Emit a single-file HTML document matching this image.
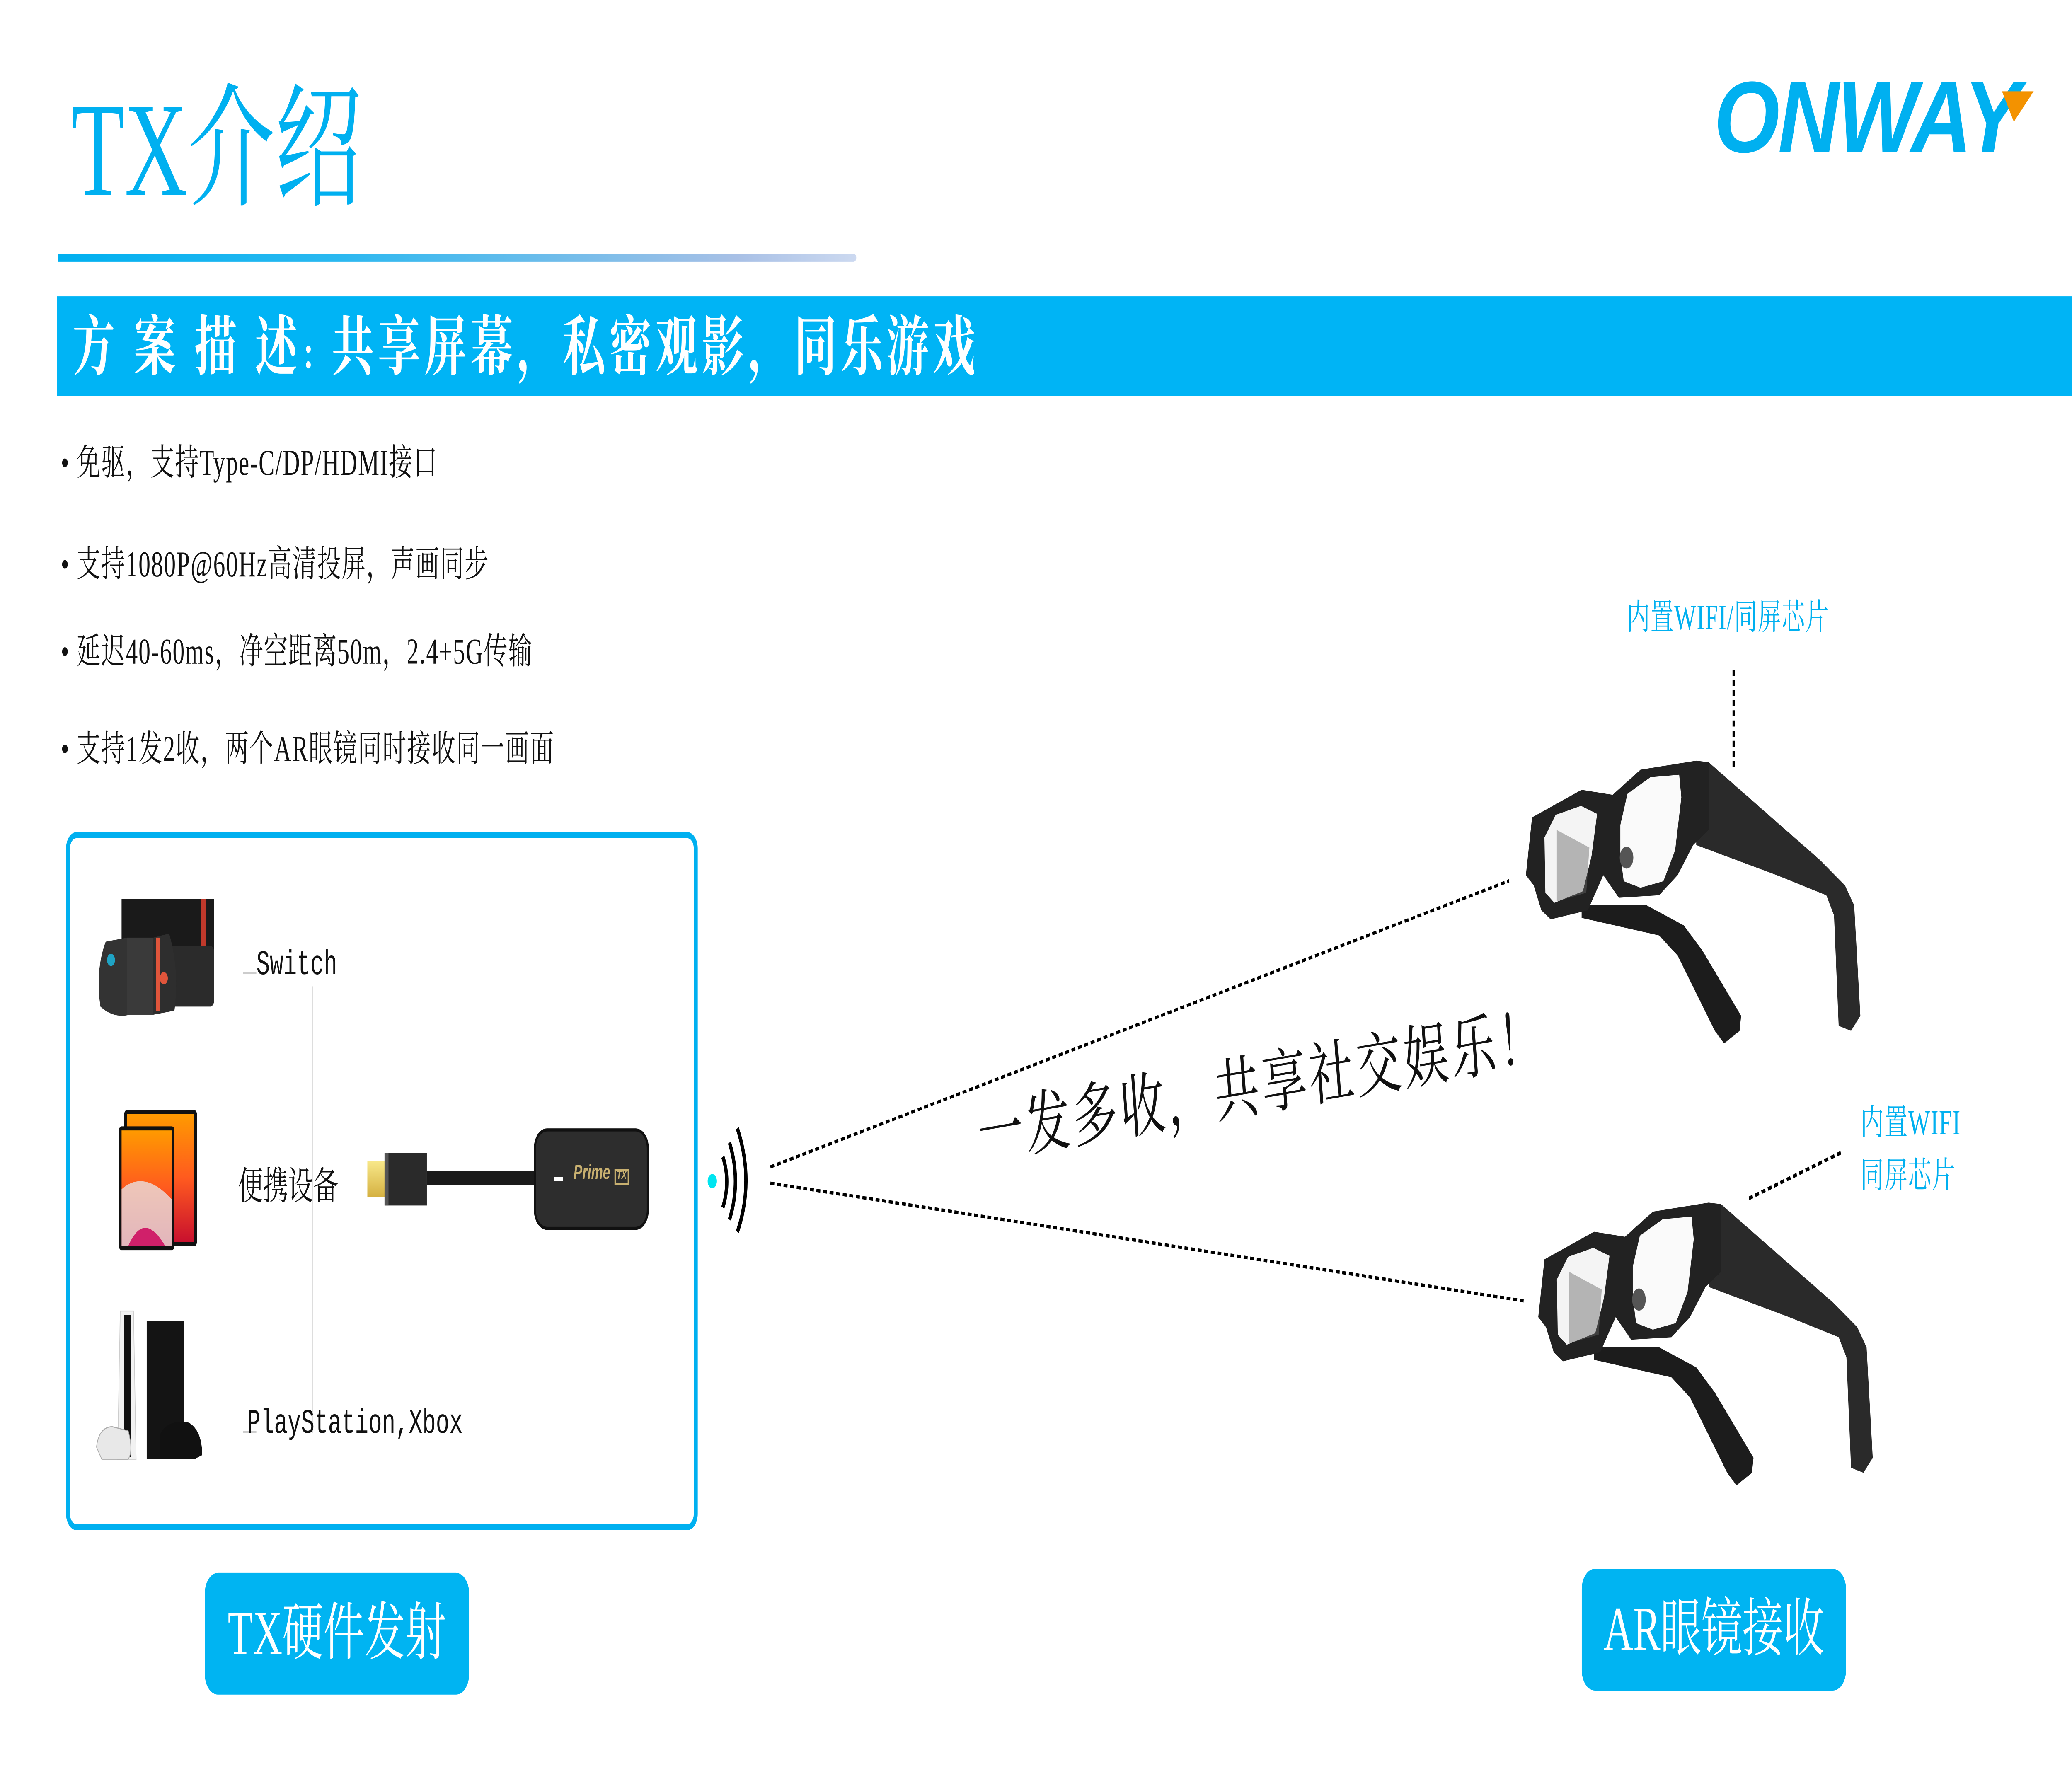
<!DOCTYPE html>
<html><head><meta charset="utf-8"><style>
html,body{margin:0;padding:0;background:#fff;overflow:hidden;width:100%;height:100%}
#root{position:absolute;left:0;top:0;width:100vw;height:100vh}
#s{position:relative;width:1568px;height:882px;background:#fff;overflow:hidden}
.a{position:absolute;white-space:nowrap}
.serif{font-family:"Liberation Serif","Noto Serif CJK SC",serif}
.b{font-size:18px;letter-spacing:0.6px;color:#111;left:46px;font-family:"Liberation Serif","Noto Serif CJK SC",serif}
.lbl{font-family:"Liberation Mono","Noto Serif CJK SC",monospace;font-size:17px;color:#111}
.btn{position:absolute;background:#00b4f2;border-radius:10px;color:#fff;font-family:"Liberation Serif","Noto Serif CJK SC",serif;font-size:31px;text-align:center}
</style></head><body>
<svg id="root" viewBox="0 0 1568 882" preserveAspectRatio="none" xmlns="http://www.w3.org/2000/svg">
<foreignObject x="0" y="0" width="1568" height="882">
<div xmlns="http://www.w3.org/1999/xhtml" id="s">
<div class="a serif" style="left:54px;top:30px;font-size:66px;color:#00b0f0;line-height:90px">TX介绍</div>
<div class="a" style="left:44px;top:125px;width:604px;height:4px;background:linear-gradient(90deg,#00b0f0 0%,#2ab8f0 35%,#a8c0e6 85%,#ccd9f0 100%);border-radius:0 2px 2px 0"></div>
<div class="a" style="left:1297px;top:28px;font-family:'Liberation Sans',sans-serif;font-weight:bold;font-style:italic;font-size:50px;color:#00b0f0;transform:scaleX(1.28);transform-origin:0 0;letter-spacing:-1px;line-height:60px">ONWAY</div>
<svg class="a" style="left:1512px;top:44px" width="30" height="20"><polygon points="3,1 27,1 12,16" fill="#f39200"/></svg>
<div class="a" style="left:43px;top:146px;width:1525px;height:49px;background:#00b4f5"></div>
<div class="a serif" style="left:55px;top:148px;font-size:32px;letter-spacing:3px;font-weight:bold;color:#fff;line-height:46px">方 案 描 述<span style="font-size:20px">：</span>共享屏幕，私密观影，同乐游戏</div>
<div class="a b" style="top:214px">• 免驱，支持Type-C/DP/HDMI接口</div>
<div class="a b" style="top:264px">• 支持1080P@60Hz高清投屏，声画同步</div>
<div class="a b" style="top:307px">• 延迟40-60ms，净空距离50m，2.4+5G传输</div>
<div class="a b" style="top:355px">• 支持1发2收，两个AR眼镜同时接收同一画面</div>
<div class="a" style="left:50px;top:410px;width:472px;height:338px;border:3px solid #00b0f0;border-radius:8px"></div>
<div class="a" style="left:236px;top:486px;width:1px;height:220px;background:#ddd"></div>
<div class="a" style="left:184px;top:479px;width:10px;height:1px;background:#ccc"></div>
<div class="a" style="left:184px;top:705px;width:10px;height:1px;background:#ccc"></div>
<div class="a lbl" style="left:194px;top:467px">Switch</div>
<div class="a lbl" style="left:180px;top:570px;font-size:19px">便携设备</div>
<div class="a lbl" style="left:187px;top:693px">PlayStation,Xbox</div>
<svg class="a" style="left:72px;top:438px" width="94" height="64">
<rect x="20" y="5" width="70" height="50" fill="#1a1a1a"/><rect x="80" y="5" width="4" height="50" fill="#c0392b"/>
<rect x="22" y="28" width="68" height="30" rx="3" fill="#2b2b2b"/>
<path d="M4,58 Q0,40 8,26 L24,24 L26,62 Q14,64 4,58Z" fill="#333"/>
<rect x="24" y="24" width="20" height="38" fill="#3a3a3a"/>
<path d="M44,24 L56,22 Q64,40 60,60 L44,62Z" fill="#2e2e2e"/><rect x="46" y="24" width="3" height="36" fill="#e0553b"/>
<circle cx="12" cy="35" r="3" fill="#1fa3c4"/><circle cx="52" cy="44" r="3" fill="#e0553b"/>
</svg>
<svg class="a" style="left:89px;top:546px" width="62" height="72">
<defs><linearGradient id="ip" x1="0" y1="0" x2="0" y2="1"><stop offset="0" stop-color="#ff9a00"/><stop offset=".5" stop-color="#ff5a1f"/><stop offset="1" stop-color="#c8102e"/></linearGradient></defs>
<rect x="5" y="1" width="55" height="67" rx="2" fill="#111"/><rect x="7" y="3" width="51" height="63" fill="url(#ip)"/>
<rect x="1" y="9" width="42" height="61" rx="2" fill="#111"/><rect x="3" y="11" width="38" height="57" fill="url(#ip)"/>
<path d="M3,40 Q20,30 41,45 L41,68 L3,68Z" fill="#e8e0e0" opacity=".8"/><path d="M8,68 Q20,50 36,68Z" fill="#d0206a"/>
</svg>
<svg class="a" style="left:71px;top:643px" width="86" height="80">
<rect x="40" y="8" width="28" height="68" fill="#141414"/>
<path d="M20,3 L30,3 L32,76 L18,76 Z" fill="#f2f2f2" stroke="#ccc" stroke-width=".5"/><rect x="23" y="5" width="5" height="70" fill="#111"/>
<path d="M2,70 Q4,60 14,60 L26,62 Q30,72 26,76 L6,76Z" fill="#e8e8e8" stroke="#aaa" stroke-width=".5"/>
<path d="M50,64 Q56,56 72,58 Q82,62 82,74 L76,76 L50,76Z" fill="#111"/>
</svg>
<div class="a" style="left:278px;top:572px;width:14px;height:18px;background:linear-gradient(#f8e88a,#d4b040)"></div>
<div class="a" style="left:291px;top:568px;width:32px;height:26px;background:#2a2a2a;border-left:3px solid #555;box-sizing:border-box"></div>
<div class="a" style="left:323px;top:577px;width:82px;height:7px;background:#1a1a1a"></div>
<div class="a" style="left:404px;top:556px;width:87px;height:50px;background:#2d2d2d;border-radius:10px;box-shadow:0 0 0 1.5px #111 inset"></div>
<div class="a" style="left:419px;top:580px;width:7px;height:2px;background:#fff"></div>
<div class="a" style="left:434px;top:573px;font-family:'Liberation Sans',sans-serif;font-style:italic;font-weight:bold;font-size:10px;color:#c8b070">Prime <span style="font-size:6px;border:1px solid #c8b070;padding:0 1px">TX</span></div>
<svg class="a" style="left:0;top:0" width="1568" height="882">
<circle cx="539" cy="582" r="3.5" fill="#00e5f0"/>
<path d="M547,570 Q553,582 547,595" stroke="#000" stroke-width="2.5" fill="none"/>
<path d="M552,563 Q561,582 552,601" stroke="#000" stroke-width="2.5" fill="none"/>
<path d="M558,556 Q571,582 558,607" stroke="#000" stroke-width="2.5" fill="none"/>
<line x1="583" y1="575" x2="1142" y2="434" stroke="#000" stroke-width="1.6" stroke-dasharray="3,2"/>
<line x1="583" y1="583" x2="1153" y2="641" stroke="#000" stroke-width="1.6" stroke-dasharray="3,2"/>
<line x1="1312" y1="330" x2="1312" y2="378" stroke="#000" stroke-width="1.8" stroke-dasharray="3,2"/>
<line x1="1393" y1="568" x2="1322" y2="591" stroke="#000" stroke-width="1.8" stroke-dasharray="3,2"/>
</svg>
<div class="a serif" style="left:740px;top:532px;font-size:34px;letter-spacing:2px;color:#111;transform:rotate(-6.5deg);transform-origin:0 50%">一发多收，共享社交娱乐！</div>
<div class="a serif" style="left:1231px;top:291px;font-size:17.5px;letter-spacing:0.5px;color:#00b0f0">内置WIFI/同屏芯片</div>
<div class="a serif" style="left:1408px;top:540px;font-size:17.5px;letter-spacing:0.5px;color:#00b0f0;line-height:26px">内置WIFI<br/>同屏芯片</div>
<svg class="a" style="left:1143.3px;top:357.3px" width="367.5" height="388" viewBox="0 0 1568 1568" preserveAspectRatio="none">
<defs><g id="gl">
<path d="M230,360 L440,360 L560,400 L620,450 L745,580 L740,610 L690,635 L660,610 L540,460 L480,420 L230,385Z" fill="#1c1c1c"/>
<path d="M600,75 L640,75 L1000,270 L1080,320 L1110,360 L1130,580 L1100,610 L1060,600 L1045,380 L1020,340 L860,300 L600,240Z" fill="#2a2a2a"/>
<path d="M50,300 L70,185 L230,130 L330,140 L420,90 L600,72 L640,75 L640,210 L590,240 L540,300 L480,340 L350,345 L300,300 L250,370 L130,388 L100,370 L75,320Z" fill="#222"/>
<path d="M355,200 L378,138 L452,105 L545,100 L552,145 L532,250 L494,312 L420,325 L366,312 L355,260Z" fill="#fafafa"/>
<path d="M110,225 L146,180 L228,162 L280,178 L262,262 L234,332 L142,355 L113,335Z" fill="#f4f4f4"/>
<path d="M150,210 L255,245 L245,335 L150,352Z" fill="#666" opacity=".45"/>
<circle cx="375" cy="265" r="22" fill="#555"/>
</g></defs>
<use href="#gl"/><use href="#gl" transform="translate(40,880)"/>
</svg>
<div class="btn" style="left:155px;top:775px;width:200px;height:60px;line-height:60px">TX硬件发射</div>
<div class="btn" style="left:1197px;top:773px;width:200px;height:60px;line-height:60px">AR眼镜接收</div>
</div>
</foreignObject>
</svg>
</body></html>
